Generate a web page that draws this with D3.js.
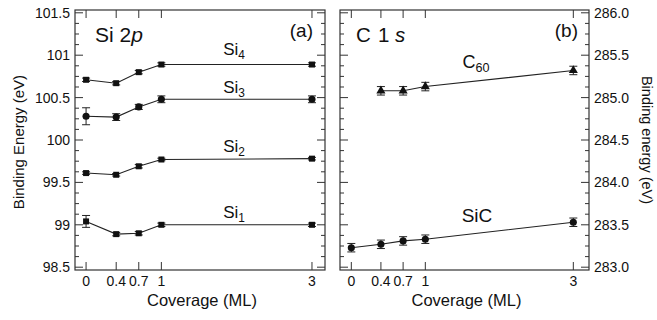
<!DOCTYPE html>
<html>
<head>
<meta charset="utf-8">
<script src="https://cdn.jsdelivr.net/npm/d3@7"></script>
<style>
body { margin: 0; background: #fff; }
text { font-family: "Liberation Sans", Arial, sans-serif; fill: #111; }
</style>
</head>
<body>
<div id="chart"></div>
<script>
// coverage values (ML)
var coverage = [0, 0.4, 0.7, 1, 3];
var xTickVals = [0, 0.4, 0.7, 1, 3];

// Si 2p components (eV), errors
var si4 = [100.71, 100.67, 100.80, 100.89, 100.89];
var si4Err = [0.02, 0.02, 0.02, 0.02, 0.02];
var si3 = [100.28, 100.27, 100.39, 100.48, 100.48];
var si3Err = [0.10, 0.04, 0.03, 0.04, 0.04];
var si2 = [99.61, 99.59, 99.69, 99.77, 99.78];
var si2Err = [0.015, 0.015, 0.02, 0.015, 0.015];
var si1 = [99.04, 98.89, 98.90, 99.00, 99.00];
var si1Err = [0.07, 0.02, 0.02, 0.02, 0.02];

// C 1s components
var c60Cov = [0.4, 0.7, 1, 3];
var c60 = [285.08, 285.08, 285.13, 285.32];
var c60Err = [0.05, 0.05, 0.05, 0.05];
var sicCov = [0, 0.4, 0.7, 1, 3];
var sic = [283.23, 283.27, 283.31, 283.33, 283.53];
var sicErr = [0.05, 0.05, 0.05, 0.05, 0.05];

var leftTicks = [98.5, 99, 99.5, 100, 100.5, 101, 101.5];
var rightTicks = [283.0, 283.5, 284.0, 284.5, 285.0, 285.5, 286.0];

var width = 657, height = 320;
var plotTop = 10, plotBottom = 270;

var svg = d3.select("#chart").append("svg")
	.attr("width", width)
	.attr("height", height);

function makePanel(opts) {
	var x = d3.scaleLinear().domain(opts.xDomain).range([opts.x0, opts.x1]);
	var y = d3.scaleLinear().domain(opts.yDomain).range([plotBottom, plotTop]);
	var g = svg.append("g");

	g.append("rect")
		.attr("x", opts.x0).attr("y", plotTop)
		.attr("width", opts.x1 - opts.x0).attr("height", plotBottom - plotTop)
		.attr("fill", "none").attr("stroke", "#333").attr("stroke-width", 1.2);

	// minor ticks every 0.125
	var minor = d3.range(opts.yTicks[0], opts.yTicks[opts.yTicks.length - 1] + 0.001, 0.125);
	minor.forEach(function(v) {
		var isMajor = Math.abs(v * 2 - Math.round(v * 2)) < 1e-6;
		var len = isMajor ? 8 : 4;
		g.append("line").attr("x1", opts.x0).attr("x2", opts.x0 + len)
			.attr("y1", y(v)).attr("y2", y(v)).attr("stroke", "#333");
		g.append("line").attr("x1", opts.x1).attr("x2", opts.x1 - len)
			.attr("y1", y(v)).attr("y2", y(v)).attr("stroke", "#333");
	});
	xTickVals.forEach(function(v) {
		g.append("line").attr("x1", x(v)).attr("x2", x(v))
			.attr("y1", plotBottom).attr("y2", plotBottom - 8).attr("stroke", "#333");
		g.append("line").attr("x1", x(v)).attr("x2", x(v))
			.attr("y1", plotTop).attr("y2", plotTop + 8).attr("stroke", "#333");
	});

	// tick labels
	g.selectAll(".xl").data(xTickVals).enter().append("text")
		.attr("x", function(d) { return x(d); })
		.attr("y", 286)
		.attr("text-anchor", "middle")
		.attr("font-size", 14)
		.text(function(d) { return d; });

	g.selectAll(".yl").data(opts.yTicks).enter().append("text")
		.attr("x", opts.labelSide === "left" ? opts.x0 - 5 : opts.x1 + 5)
		.attr("y", function(d) { return y(d) + 5; })
		.attr("text-anchor", opts.labelSide === "left" ? "end" : "start")
		.attr("font-size", 14)
		.text(function(d) { return opts.fmt(d); });

	g.append("text")
		.attr("x", (opts.x0 + opts.x1) / 2 + 2)
		.attr("y", 306)
		.attr("text-anchor", "middle")
		.attr("font-size", 16.5)
		.text("Coverage (ML)");

	return { g: g, x: x, y: y };
}

function drawSeries(p, xs, ys, errs, shape) {
	var pts = xs.map(function(d, i) { return { x: d, y: ys[i], e: errs[i] }; });
	var line = d3.line().x(function(d) { return p.x(d.x); }).y(function(d) { return p.y(d.y); });
	p.g.append("path").datum(pts).attr("d", line)
		.attr("fill", "none").attr("stroke", "#222").attr("stroke-width", 1.1);

	pts.forEach(function(d) {
		var cx = p.x(d.x), yt = p.y(d.y + d.e), yb = p.y(d.y - d.e);
		p.g.append("line").attr("x1", cx).attr("x2", cx).attr("y1", yt).attr("y2", yb)
			.attr("stroke", "#222");
		[yt, yb].forEach(function(yy) {
			p.g.append("line").attr("x1", cx - 4).attr("x2", cx + 4).attr("y1", yy).attr("y2", yy)
				.attr("stroke", "#222");
		});
	});

	var sym = shape === "square" ? d3.symbolSquare : shape === "triangle" ? d3.symbolTriangle : d3.symbolCircle;
	var size = shape === "square" ? 36 : shape === "triangle" ? 36 : 40;
	p.g.selectAll(null).data(pts).enter().append("path")
		.attr("d", d3.symbol().type(sym).size(size))
		.attr("transform", function(d) { return "translate(" + p.x(d.x) + "," + p.y(d.y) + ")"; })
		.attr("fill", "#111");
}

function subLabel(g, x, y, base, sub, size) {
	var t = g.append("text").attr("x", x).attr("y", y).attr("font-size", size).attr("text-anchor", "middle");
	t.append("tspan").text(base);
	t.append("tspan").attr("font-size", size * 0.7).attr("dy", 4).text(sub);
}

// left panel
var left = makePanel({
	x0: 75, x1: 325,
	xDomain: [-0.147, 3.173],
	yDomain: [98.467, 101.533],
	yTicks: leftTicks,
	labelSide: "left",
	fmt: function(d) { return d3.format("")(d); }
});
drawSeries(left, coverage, si4, si4Err, "square");
drawSeries(left, coverage, si3, si3Err, "circle");
drawSeries(left, coverage, si2, si2Err, "square");
drawSeries(left, coverage, si1, si1Err, "square");
subLabel(left.g, 234, 55, "Si", "4", 17);
subLabel(left.g, 234, 93, "Si", "3", 17);
subLabel(left.g, 234, 152, "Si", "2", 17);
subLabel(left.g, 234, 218, "Si", "1", 17);

var t1 = left.g.append("text").attr("x", 95).attr("y", 42).attr("font-size", 21);
t1.append("tspan").text("Si 2");
t1.append("tspan").attr("font-style", "italic").text("p");
left.g.append("text").attr("x", 313).attr("y", 37).attr("text-anchor", "end")
	.attr("font-size", 19).text("(a)");

svg.append("text")
	.attr("transform", "translate(24,142) rotate(-90)")
	.attr("text-anchor", "middle")
	.attr("font-size", 15)
	.text("Binding Energy (eV)");

// right panel
var right = makePanel({
	x0: 340, x1: 589,
	xDomain: [-0.153, 3.212],
	yDomain: [282.967, 286.033],
	yTicks: rightTicks,
	labelSide: "right",
	fmt: d3.format(".1f")
});
drawSeries(right, c60Cov, c60, c60Err, "triangle");
drawSeries(right, sicCov, sic, sicErr, "circle");
subLabel(right.g, 476, 68, "C", "60", 18);
right.g.append("text").attr("x", 477).attr("y", 222).attr("text-anchor", "middle")
	.attr("font-size", 19).text("SiC");

var t2 = right.g.append("text").attr("y", 42).attr("font-size", 20.5);
t2.append("tspan").attr("x", 356).text("C");
t2.append("tspan").attr("x", 378).text("1");
t2.append("tspan").attr("x", 395).attr("font-style", "italic").text("s");
right.g.append("text").attr("x", 578).attr("y", 37).attr("text-anchor", "end")
	.attr("font-size", 19).text("(b)");

svg.append("text")
	.attr("transform", "translate(642,140) rotate(90)")
	.attr("text-anchor", "middle")
	.attr("font-size", 14.5)
	.text("Binding energy (eV)");
</script>
</body>
</html>
